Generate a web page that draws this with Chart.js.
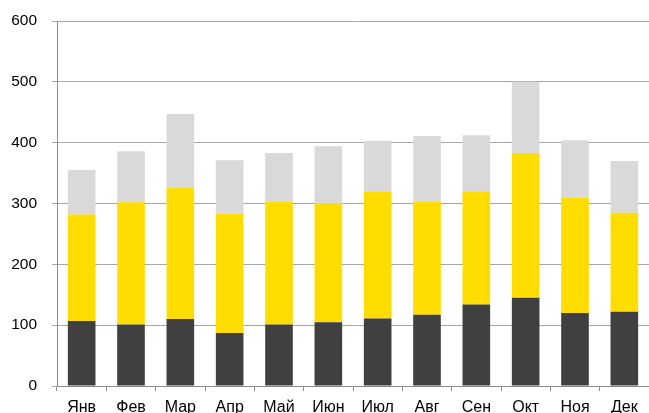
<!DOCTYPE html>
<html lang="ru">
<head>
<meta charset="utf-8">
<script src="https://cdn.jsdelivr.net/npm/chart.js@4"></script>
<style>
    html, body { margin: 0; padding: 0; background: #fff; overflow: hidden; }
    #wrap { width: 649px; height: 413px; position: relative; }
</style>
</head>
<body>
<div id="wrap"><canvas id="monthChart"></canvas></div>
<script>
// Месяцы и значения по сериям (стек)
const mesi = ['Янв', 'Фев', 'Мар', 'Апр', 'Май', 'Июн', 'Июл', 'Авг', 'Сен', 'Окт', 'Ноя', 'Дек'];
const serieScura = [107, 101, 110, 87, 101, 105, 111, 117, 134, 145, 120, 122];
const serieGialla = [175, 201, 216, 196, 202, 196, 209, 186, 186, 238, 190, 163];
const serieGrigia = [73, 84, 121, 88, 80, 93, 83, 108, 92, 117, 94, 85];
const yTicks = [0, 100, 200, 300, 400, 500, 600];

const fontBase = { family: "'Liberation Sans', Arial, sans-serif", size: 15.5 };

new Chart(document.getElementById('monthChart'), {
    type: 'bar',
    data: {
        labels: mesi,
        datasets: [
            { data: serieScura, backgroundColor: '#404040' },
            { data: serieGialla, backgroundColor: '#FFDD00' },
            { data: serieGrigia, backgroundColor: '#D9D9D9' }
        ]
    },
    options: {
        responsive: true,
        maintainAspectRatio: false,
        animation: false,
        layout: { padding: { top: 21, right: 0, bottom: 0, left: 0 } },
        datasets: {
            bar: { categoryPercentage: 1, barPercentage: 0.56, borderWidth: 0 }
        },
        plugins: { legend: { display: false }, tooltip: { enabled: false } },
        scales: {
            x: {
                stacked: true,
                offset: true,
                afterFit: s => { s.height = 27; },
                grid: { offset: true, drawOnChartArea: false, drawTicks: true, tickLength: 5, color: '#8c8c8c' },
                border: { color: '#8c8c8c', width: 1 },
                ticks: { color: '#000', font: { ...fontBase, size: 16 }, padding: 7, maxRotation: 0 }
            },
            y: {
                stacked: true,
                min: 0,
                max: 600,
                afterFit: s => { s.width = 57; },
                afterBuildTicks: s => { s.ticks = yTicks.map(v => ({ value: v })); },
                grid: { color: '#a6a6a6', tickLength: 5, lineWidth: 1 },
                border: { color: '#8c8c8c', width: 1 },
                ticks: { color: '#000', font: fontBase, padding: 15 }
            }
        }
    },
    plugins: [{
        // l'area del grafico va fissata: 600 a y=21, 0 a y=386
        id: 'areaFissa',
        afterLayout(chart) {
            const area = chart.chartArea;
            const y = chart.scales.y;
            area.top = 21;
            area.bottom = 386;
            y.top = 21;
            y.bottom = 386;
            y.height = 365;
            y.configure();
            const x = chart.scales.x;
            x.top = 386;
            x.bottom = 413;
        }
    }]
});
</script>
</body>
</html>
